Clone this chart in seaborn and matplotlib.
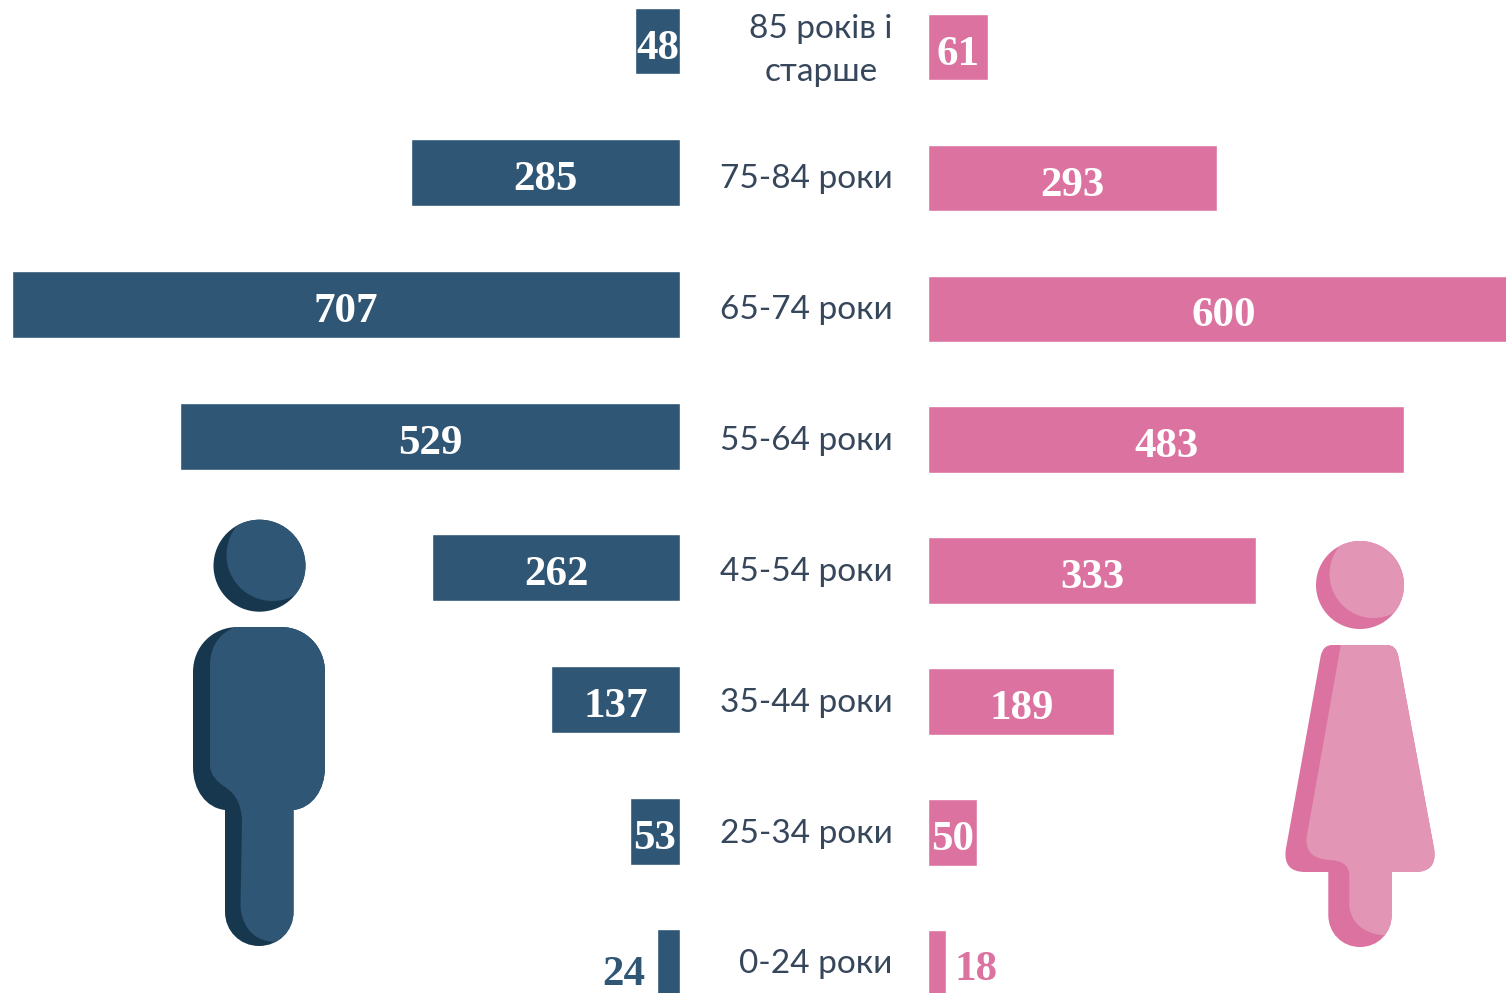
import matplotlib
matplotlib.use("Agg")
import matplotlib.pyplot as plt
import seaborn as sns
from matplotlib.path import Path
from matplotlib.patches import Circle, PathPatch
from matplotlib.transforms import ScaledTranslation

# --- dane ---
ages = ["85 років і\nстарше", "75-84 роки", "65-74 роки", "55-64 роки",
        "45-54 роки", "35-44 роки", "25-34 роки", "0-24 роки"]
men = [48, 285, 707, 529, 262, 137, 53, 24]
women = [61, 293, 600, 483, 333, 189, 50, 18]

BLUE = "#2F5675"
BLUE_DARK = "#17374F"
PINK = "#DB729F"
PINK_LIGHT = "#E295B5"
TEXT = "#36465B"
W, H = 1506, 993

sns.set_theme(style="white")
plt.rcParams['font.family'] = ['Lato', 'Open Sans', 'DejaVu Sans']

fig = plt.figure(figsize=(W / 100, H / 100), dpi=100)
fig.patch.set_facecolor("white")


def make_axes(x0, x1):
    ax = fig.add_axes([x0 / W, 0, (x1 - x0) / W, 1])
    ax.patch.set_alpha(0)
    return ax


def value_labels(ax, values, small, small_color, sign, small_dx, small_dy):
    # liczby na środku słupka, najmniejszy słupek ma etykietę obok
    for i, v in enumerate(values):
        if v == small:
            ax.annotate(str(v), (v, i), xytext=(sign * small_dx, small_dy), textcoords="offset points",
                        ha="right" if sign < 0 else "left", va="center", color=small_color,
                        fontsize=31, fontweight="bold", family="Liberation Serif")
        else:
            ax.annotate(str(v), (v / 2, i), xytext=(0, -5.5), textcoords="offset points",
                        ha="center", va="center", color="white",
                        fontsize=31, fontweight="bold", family="Liberation Serif")


# === Mężczyźni ===
ax_m = make_axes(12, 680)
sns.barplot(x=men, y=ages, color=BLUE, saturation=1, width=0.508, orient="h", ax=ax_m)
ax_m.set_xlim(707, 0)
ax_m.set_ylim((H - 41) / 131.7, -41 / 131.7)
ax_m.set_yticks([])
value_labels(ax_m, men, 24, BLUE, -1, 9, -9)

# === Kobiety ===
# słupek 600 wychodzi poza prawą krawędź obrazka, tak jak w oryginale
ax_w = make_axes(928, 1506)
sns.barplot(x=women, y=ages, color=PINK, saturation=1, width=0.508, orient="h", ax=ax_w)
ax_w.set_xlim(0, 586)
ax_w.set_ylim((H - 47) / 130.9, -47 / 130.9)
ax_w.tick_params(axis="y", length=0, pad=25.5, labelsize=24, labelcolor=TEXT)
tick_labels = ax_w.get_yticklabels()
tick_labels[0].set_multialignment("center")
tick_labels[0].set_linespacing(1.55)
for i, lab in enumerate(tick_labels):
    dy = 4.5 if i == 0 else 1.3
    lab.set_transform(lab.get_transform() + ScaledTranslation(0, dy / 72, fig.dpi_scale_trans))
value_labels(ax_w, women, 18, PINK, 1, 6.5, -5)

for ax in (ax_m, ax_w):
    ax.set_xticks([])
    ax.set_xlabel("")
    ax.set_ylabel("")
    sns.despine(ax=ax, left=True, bottom=True)

# === Ikony (współrzędne w pikselach obrazka) ===
icons = fig.add_axes([0, 0, 1, 1])
icons.set_xlim(0, W)
icons.set_ylim(H, 0)
icons.axis("off")
icons.patch.set_alpha(0)

M, L, C, B, Z = Path.MOVETO, Path.LINETO, Path.CURVE3, Path.CURVE4, Path.CLOSEPOLY


def shape(points, color):
    verts = [p[:2] for p in points]
    codes = [p[2] for p in points]
    patch = PathPatch(Path(verts, codes), facecolor=color, edgecolor="none")
    icons.add_patch(patch)
    return patch


def head(cx, cy, r, lx, ly, dark, light):
    base = Circle((cx, cy), r, facecolor=dark, edgecolor="none")
    icons.add_patch(base)
    top = Circle((lx, ly), r, facecolor=light, edgecolor="none")
    icons.add_patch(top)
    top.set_clip_path(base)


# mężczyzna
head(259.5, 565.7, 46, 272.5, 555, BLUE_DARK, BLUE)
man_outer = [
    (238, 627, M), (212, 627, B), (193, 647, B), (193, 672, B),
    (193, 767, L), (193, 790, B), (206, 808, B), (225, 810, B),
    (225, 912, L), (225, 931, B), (240, 946, B), (259, 946, B),
    (278.5, 946, B), (293.5, 931, B), (293.5, 912, B),
    (293.5, 810, L), (312, 808, B), (325, 790, B), (325, 767, B),
    (325, 672, L), (325, 647, B), (306, 627, B), (281, 627, B),
    (238, 627, L), (238, 627, Z),
]
base_m = shape(man_outer, BLUE_DARK)
man_light = [
    (235, 627, M), (218, 634, B), (210, 648, B), (210, 665, B),
    (210, 767, L), (211, 778, C), (225, 787, C),
    (241, 797, C), (242, 820, C), (240.5, 907, L), (243, 932, B), (258, 942, B), (277, 942, B),
    (340, 942, L), (340, 620, L), (235, 620, L), (235, 627, Z),
]
shape(man_light, BLUE).set_clip_path(base_m)

# kobieta
head(1360, 585, 44, 1373.5, 574, PINK, PINK_LIGHT)
woman_outer = [
    (1332, 645, M), (1323, 645, C), (1320.7, 656, C), (1285.7, 850, L), (1283, 872, C),
    (1305, 872, C), (1328.3, 872, L), (1328.3, 915, L),
    (1328.3, 933, B), (1342, 947, B), (1360, 947, B),
    (1378, 947, B), (1391.7, 933, B), (1391.7, 915, B),
    (1391.7, 872, L), (1415, 872, L), (1437, 872, C),
    (1434.3, 850, C), (1398.3, 656, L), (1396, 645, C), (1387, 645, C), (1332, 645, L),
    (1332, 645, Z),
]
base_w = shape(woman_outer, PINK)
woman_light = [
    (1341.7, 640, M), (1306.5, 838, L), (1305, 859, C), (1330, 860, C), (1349, 861, C),
    (1349.3, 875, C), (1349.3, 906, L), (1352, 930, C), (1380, 935, C), (1450, 940, L),
    (1450, 640, L), (1341.7, 640, L), (1341.7, 640, Z),
]
shape(woman_light, PINK_LIGHT).set_clip_path(base_w)

fig.savefig("out.png", dpi=100, facecolor="white")
